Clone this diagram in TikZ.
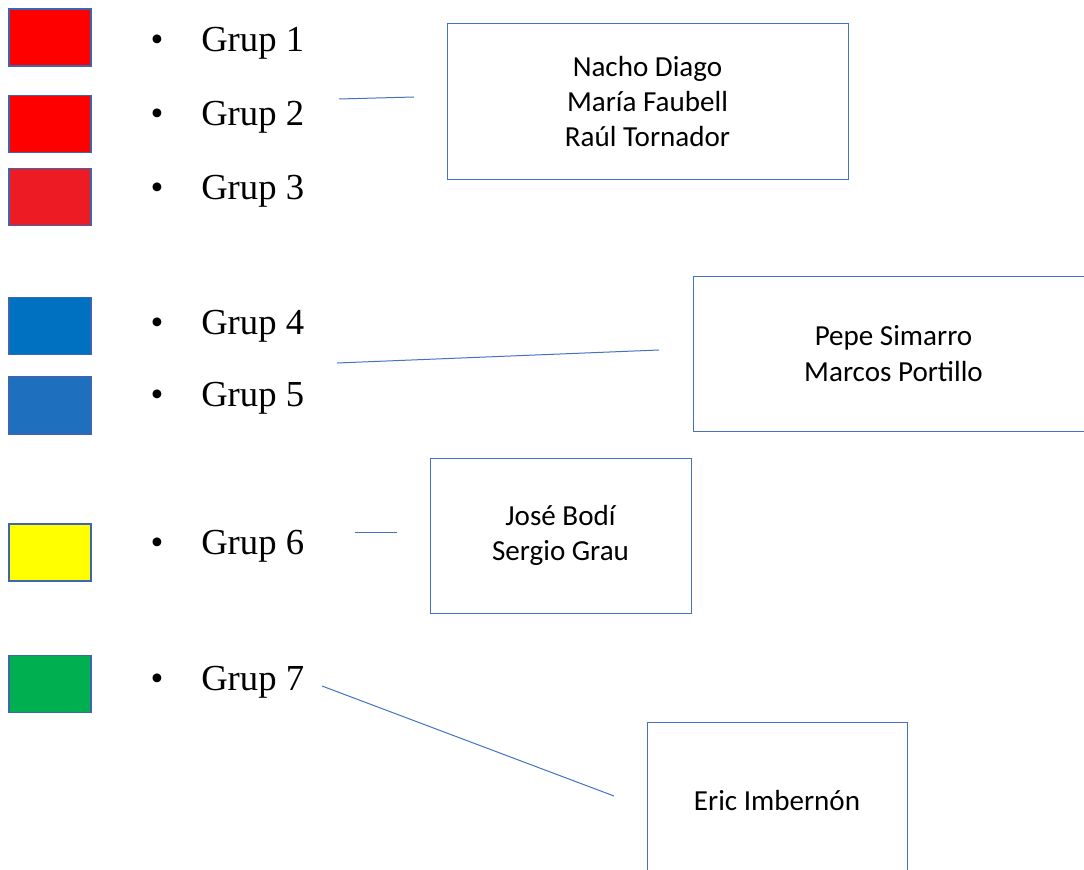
\documentclass[tikz,border=0pt]{standalone}
\usepackage{fontspec}
\setmainfont{Liberation Serif}
\newfontfamily\namefont{Carlito}
\definecolor{linkblue}{HTML}{4472C4}
\definecolor{swborder}{HTML}{3A66B4}
\definecolor{swred}{HTML}{FF0000}
\definecolor{swscar}{HTML}{ED1C24}
\definecolor{swblue}{HTML}{0070C0}
\definecolor{swmid}{HTML}{1E6FBD}
\definecolor{swyel}{HTML}{FFFF00}
\definecolor{swgreen}{HTML}{00B050}
\tikzset{
	swatch/.style={draw=swborder, line width=1.3pt, fill=#1, minimum width=61.5pt, minimum height=42.75pt, inner sep=0pt},
	grouplabel/.style={font=\fontsize{27.5}{33}\selectfont, inner sep=0pt},
	namebox/.style={draw=linkblue, line width=0.75pt, minimum height=116.25pt, inner sep=0pt, align=center, font=\namefont\fontsize{21.8}{26.5}\selectfont},
	link/.style={draw=linkblue, line width=0.75pt}
}
\begin{document}
\begin{tikzpicture}[x=0.75pt, y=-0.75pt]
	\useasboundingbox[fill=white] (0,0) rectangle (1084,870);
	\clip (0,0) rectangle (1084,870);
	%swatches and group list
	\foreach \n/\sy/\ty/\col in {1/37.5/52/swred, 2/124/126/swred, 3/197/199/swscar, 4/326/334/swblue, 5/405.5/406/swmid, 6/552.5/554/swyel, 7/684/690/swgreen}
	{
		\node[swatch=\col] (sw\n) at (50,\sy) {};
		\node[grouplabel, anchor=base] (bul\n) at (157,\ty) {•};
		\node[grouplabel, anchor=base west] (grup\n) at (201,\ty) {Grup \n};
	}
	%name boxes
	\node[namebox, minimum width=300.75pt] (boxA) at (647.5,101.5) {Nacho Diago\\María Faubell\\Raúl Tornador};
	\node[namebox, minimum width=300.75pt] (boxB) at (893.5,353.5) {Pepe Simarro\\Marcos Portillo};
	\node[namebox, minimum width=195.75pt] (boxC) at (560.5,535.5) {José Bodí\\Sergio Grau};
	\node[namebox, minimum width=195pt] (boxD) at (777,800) {Eric Imbernón};
	%links
	\coordinate (l1a) at (339,99);
	\coordinate (l1b) at (414,97);
	\coordinate (l2a) at (337,363);
	\coordinate (l2b) at (659,350);
	\coordinate (l3a) at (355,532);
	\coordinate (l3b) at (397,532);
	\coordinate (l4a) at (322,686);
	\coordinate (l4b) at (614,796);
	\draw[link] (l1a) -- (l1b);
	\draw[link] (l2a) -- (l2b);
	\draw[link] (l3a) -- (l3b);
	\draw[link] (l4a) -- (l4b);
\end{tikzpicture}
\end{document}
